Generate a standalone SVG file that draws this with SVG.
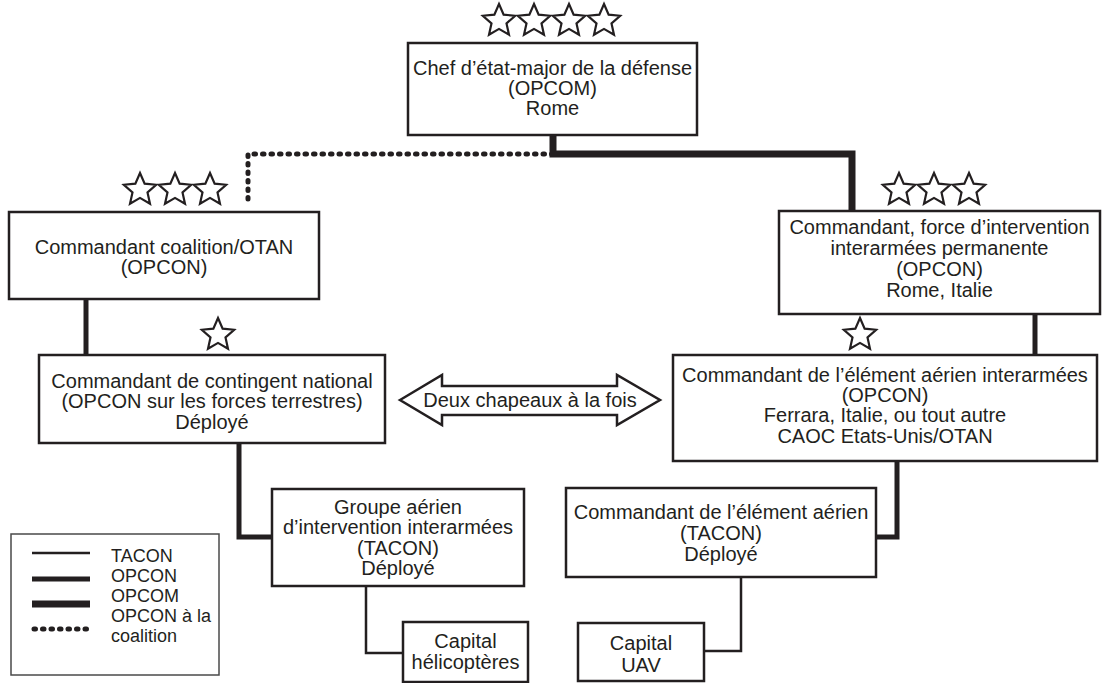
<svg xmlns="http://www.w3.org/2000/svg" width="1102" height="683" viewBox="0 0 1102 683">
<style>
.box{fill:#fff;stroke:#231f20;stroke-width:2.5}
.legend{fill:#fff;stroke:#4a4a4a;stroke-width:1.5}
text{font-family:"Liberation Sans",Arial,sans-serif;font-size:20px;fill:#231f20}
.lt{font-size:18px}
.c{text-anchor:middle}
.tacon{fill:none;stroke:#231f20;stroke-width:2.5}
.opcon{fill:none;stroke:#231f20;stroke-width:5}
.opcom{fill:none;stroke:#231f20;stroke-width:7}
.coal{fill:none;stroke:#231f20;stroke-width:5;stroke-dasharray:1.5 7;stroke-linecap:round}
.star{fill:#fff;stroke:#231f20;stroke-width:2.2;stroke-linejoin:miter}
</style>
<defs>
<polygon id="star" class="star" points="0,-17 4.643,-6.391 16.168,-5.253 7.513,2.441 9.993,13.753 0,7.9 -9.993,13.753 -7.513,2.441 -16.168,-5.253 -4.643,-6.391"/>
</defs>
<g id="connectors">
<polyline class="coal" points="553,154 248,154 248,206"/>
<polyline class="opcom" points="553,135 553,154 852,154 852,211"/>
<line class="opcon" x1="86" y1="299" x2="86" y2="355"/>
<line class="opcon" x1="1035" y1="314" x2="1035" y2="355"/>
<polyline class="opcon" points="239,443 239,537 272,537"/>
<polyline class="opcon" points="897,461 897,537 876,537"/>
<polyline class="tacon" points="366,586 366,653 403,653"/>
<polyline class="tacon" points="741,577 741,651 704,651"/>
</g>
<g id="stars">
<use href="#star" x="499" y="21"/>
<use href="#star" x="534" y="21"/>
<use href="#star" x="569" y="21"/>
<use href="#star" x="604" y="21"/>
<use href="#star" x="140" y="190"/>
<use href="#star" x="175" y="190"/>
<use href="#star" x="210" y="190"/>
<use href="#star" x="899" y="190"/>
<use href="#star" x="934" y="190"/>
<use href="#star" x="969" y="190"/>
<use href="#star" x="218" y="335"/>
<use href="#star" x="860" y="335"/>
</g>
<g id="node-chef">
<rect class="box" x="408" y="43" width="289" height="92"/>
<text class="c" x="552.5" y="75">Chef d’état-major de la défense</text>
<text class="c" x="552.5" y="95">(OPCOM)</text>
<text class="c" x="552.5" y="115">Rome</text>
</g>
<g id="node-coalition">
<rect class="box" x="9" y="212" width="310" height="87"/>
<text class="c" x="164" y="254">Commandant coalition/OTAN</text>
<text class="c" x="164" y="274">(OPCON)</text>
</g>
<g id="node-force">
<rect class="box" x="779" y="211" width="321" height="103"/>
<text class="c" x="939.5" y="234">Commandant, force d’intervention</text>
<text class="c" x="939.5" y="255">interarmées permanente</text>
<text class="c" x="939.5" y="276">(OPCON)</text>
<text class="c" x="939.5" y="297">Rome, Italie</text>
</g>
<g id="node-contingent">
<rect class="box" x="39" y="355" width="346" height="88"/>
<text class="c" x="212" y="388">Commandant de contingent national</text>
<text class="c" x="212" y="408">(OPCON sur les forces terrestres)</text>
<text class="c" x="212" y="429">Déployé</text>
</g>
<g id="node-jfacc">
<rect class="box" x="673" y="355" width="424" height="106"/>
<text class="c" x="885" y="382">Commandant de l’élément aérien interarmées</text>
<text class="c" x="885" y="402">(OPCON)</text>
<text class="c" x="885" y="422">Ferrara, Italie, ou tout autre</text>
<text class="c" x="885" y="443">CAOC Etats-Unis/OTAN</text>
</g>
<g id="node-deux">
<polygon class="box" points="400,400 442,375 442,386 617,386 617,375 660,400 617,425 617,415 442,415 442,425"/>
<text class="c" x="530" y="407">Deux chapeaux à la fois</text>
</g>
<g id="node-groupe">
<rect class="box" x="272" y="489" width="252" height="97"/>
<text class="c" x="398" y="514">Groupe aérien</text>
<text class="c" x="398" y="534">d’intervention interarmées</text>
<text class="c" x="398" y="555">(TACON)</text>
<text class="c" x="398" y="575">Déployé</text>
</g>
<g id="node-air">
<rect class="box" x="566" y="488" width="310" height="89"/>
<text class="c" x="721" y="519">Commandant de l’élément aérien</text>
<text class="c" x="721" y="540">(TACON)</text>
<text class="c" x="721" y="561">Déployé</text>
</g>
<g id="node-helico">
<rect class="box" x="403" y="622" width="125" height="60"/>
<text class="c" x="465.5" y="648">Capital</text>
<text class="c" x="465.5" y="669">hélicoptères</text>
</g>
<g id="node-uav">
<rect class="box" x="578" y="623" width="126" height="58"/>
<text class="c" x="641" y="650">Capital</text>
<text class="c" x="641" y="672">UAV</text>
</g>
<g id="legend">
<rect class="legend" x="11" y="534" width="208" height="141"/>
<line class="tacon" x1="32" y1="553" x2="90" y2="553"/>
<line class="opcon" x1="32" y1="579" x2="90" y2="579"/>
<line class="opcom" x1="32" y1="604" x2="90" y2="604"/>
<line class="coal" x1="34" y1="629" x2="90" y2="629"/>
<text class="lt" x="111" y="562">TACON</text>
<text class="lt" x="111" y="582">OPCON</text>
<text class="lt" x="111" y="602">OPCOM</text>
<text class="lt" x="111" y="622">OPCON à la</text>
<text class="lt" x="111" y="642">coalition</text>
</g>
</svg>
